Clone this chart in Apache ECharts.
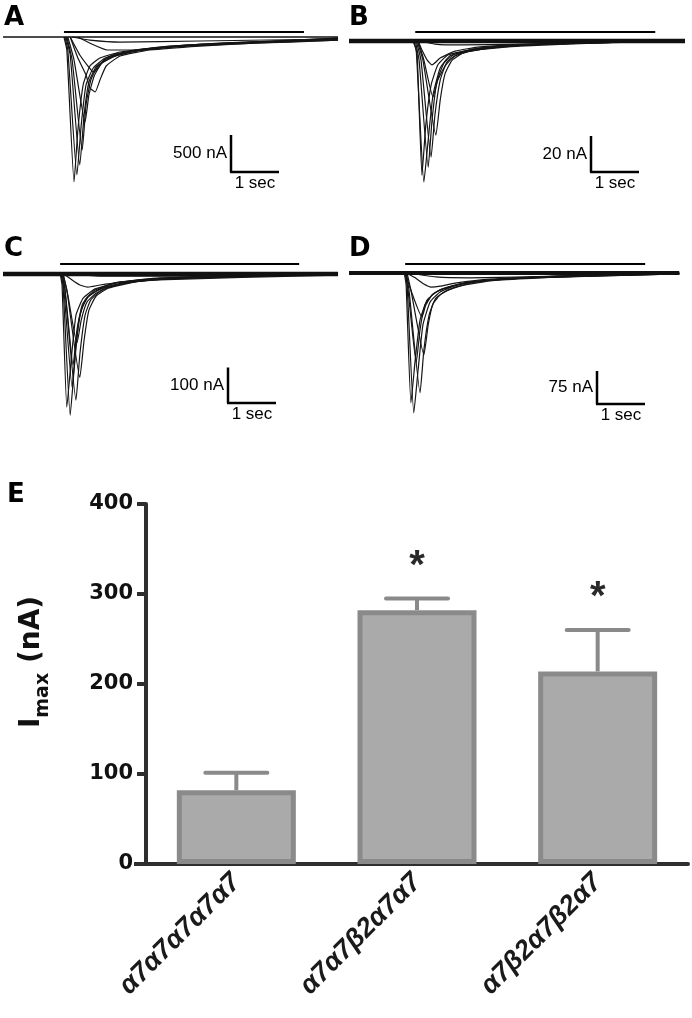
<!DOCTYPE html>
<html><head><meta charset="utf-8">
<script src="https://cdn.jsdelivr.net/npm/echarts@6/dist/echarts.min.js"></script>
<style>html,body{margin:0;padding:0;background:#fff}#c{width:692px;height:1018px}</style>
</head><body><div id="c"></div>
<script>
// ---------- Panel A traces (time s, current nA) ----------
const timesA = [
  [1.27,1.33,1.48,1.56,1.67,1.81,2.02,2.44,3.27,4.52,5.77,6.98],
  [1.29,1.35,1.54,1.63,1.73,1.88,2.13,2.65,3.48,4.73,5.98,6.98],
  [1.31,1.40,1.60,1.69,1.79,1.94,2.19,2.75,3.69,4.94,6.19,6.98],
  [1.33,1.44,1.65,1.73,1.83,1.98,2.27,2.85,3.90,5.15,6.98],
  [1.35,1.48,1.71,1.79,1.90,2.06,2.40,3.06,4.10,5.35,6.98],
  [1.40,1.56,1.73,1.81,1.92,2.02,2.15,2.44,3.06,4.10,5.35,6.98],
  [1.40,1.60,1.77,1.88,1.98,2.10,2.33,2.96,4.10,5.35,6.98],
  [1.56,1.85,2.17,2.65,3.48,4.73,5.98,6.98],
  [1.44,1.81,2.44,4.10,6.98]
];
const currentsA = [
  [0,-176,-1958,-1256,-648,-392,-284,-203,-135,-81,-54,-27],
  [0,-176,-1863,-1188,-648,-419,-284,-189,-122,-81,-54,-27],
  [0,-243,-1728,-1053,-608,-405,-284,-189,-122,-81,-41,-14],
  [0,-311,-1526,-918,-581,-392,-270,-176,-108,-68,-14],
  [0,-311,-1148,-783,-527,-351,-243,-162,-108,-68,-27],
  [0,-284,-513,-689,-743,-581,-392,-257,-176,-122,-81,-41],
  [0,-243,-392,-473,-419,-311,-230,-162,-108,-68,-27],
  [0,-95,-176,-176,-135,-95,-68,-41],
  [0,-41,-68,-54,-27]
];
// ---------- Panel B ----------
const timesB = [
  [1.33,1.40,1.56,1.65,1.75,1.90,2.10,2.52,3.15,4.19,5.65,7.00],
  [1.35,1.42,1.52,1.60,1.71,1.85,2.06,2.63,3.56,5.02,7.00],
  [1.38,1.46,1.65,1.73,1.83,1.98,2.21,2.73,3.77,5.23,7.00],
  [1.40,1.50,1.71,1.79,1.90,2.04,2.27,2.94,3.98,7.00],
  [1.42,1.54,1.81,1.90,2.00,2.15,2.42,3.15,4.40,7.00],
  [1.44,1.56,1.75,1.85,2.00,2.21,2.63,3.56,5.23,7.00],
  [1.44,1.52,1.63,1.73,1.90,2.21,2.73,3.77,5.65,7.00],
  [1.48,1.79,2.31,3.56,7.00]
];
const currentsB = [
  [0,-5.0,-78.4,-55.0,-30.0,-15.0,-8.3,-5.0,-2.8,-1.7,-0.6,0],
  [0,-7.8,-74.5,-46.7,-24.5,-13.3,-7.8,-4.4,-2.2,-1.1,0],
  [0,-10.6,-70.1,-43.9,-22.8,-12.2,-7.2,-3.9,-2.2,-0.6,0],
  [0,-10.6,-64.5,-41.1,-21.7,-11.7,-7.2,-3.9,-1.7,0],
  [0,-10.6,-52.3,-32.8,-18.3,-10.6,-6.1,-3.3,-1.1,0],
  [0,-10.6,-31.1,-21.7,-13.9,-8.3,-5.0,-2.8,-1.1,0],
  [0,-5.0,-10.6,-13.3,-9.5,-5.6,-3.3,-1.7,-0.6,0],
  [0,-1.7,-2.2,-1.7,0]
];
// ---------- Panel C ----------
const timesC = [
  [1.21,1.25,1.40,1.48,1.58,1.71,1.92,2.33,3.06,4.52,6.98],
  [1.19,1.23,1.33,1.42,1.52,1.67,1.92,2.44,3.27,4.73,6.98],
  [1.23,1.29,1.52,1.60,1.71,1.83,2.06,2.54,3.48,6.98],
  [1.21,1.27,1.44,1.52,1.63,1.77,2.02,2.65,3.69,6.98],
  [1.25,1.33,1.60,1.69,1.79,1.94,2.19,2.85,4.10,6.98],
  [1.23,1.29,1.46,1.54,1.65,1.81,2.13,2.85,6.98],
  [1.25,1.35,1.54,1.63,1.75,1.94,2.33,3.06,6.98],
  [1.27,1.44,1.60,1.77,2.02,2.65,4.10,6.98],
  [1.29,2.02,4.10,6.98]
];
const currentsC = [
  [0,-31,-398,-271,-130,-73,-45,-25,-14,-6,0],
  [0,-31,-375,-243,-116,-68,-42,-23,-11,-6,0],
  [0,-45,-355,-228,-116,-73,-45,-25,-14,0],
  [0,-45,-319,-200,-102,-65,-42,-23,-11,0],
  [0,-45,-291,-186,-102,-62,-40,-20,-8,0],
  [0,-40,-257,-158,-87,-59,-37,-17,0],
  [0,-59,-195,-130,-79,-54,-31,-17,-3],
  [0,-17,-31,-37,-31,-20,-8,0],
  [0,-6,-6,0]
];
// ---------- Panel D ----------
const timesD = [
  [1.17,1.21,1.35,1.44,1.54,1.69,1.90,2.31,3.15,4.40,6.88],
  [1.15,1.19,1.29,1.38,1.48,1.63,1.85,2.42,3.56,6.88],
  [1.19,1.25,1.48,1.56,1.67,1.81,2.06,2.63,3.77,6.88],
  [1.17,1.23,1.40,1.48,1.58,1.75,2.00,2.52,3.98,6.88],
  [1.21,1.29,1.56,1.65,1.75,1.92,2.21,2.94,4.40,6.88],
  [1.19,1.25,1.52,1.60,1.73,1.94,2.31,3.15,6.88],
  [1.19,1.38,1.56,1.71,1.90,2.21,2.94,4.40,6.88],
  [1.23,1.81,2.52,4.40,6.88]
];
const currentsD = [
  [0,-27,-318,-220,-118,-66,-43,-25,-14,-7,-2],
  [0,-27,-295,-197,-107,-61,-41,-23,-11,-2],
  [0,-39,-272,-175,-95,-57,-39,-20,-11,-2],
  [0,-39,-204,-129,-73,-48,-34,-20,-9,0],
  [0,-39,-186,-118,-70,-48,-32,-18,-9,-2],
  [0,-27,-100,-73,-50,-36,-25,-14,0],
  [0,-11,-25,-32,-30,-23,-14,-7,0],
  [0,-9,-11,-7,0]
];
// recording span (s), agonist application (start, stop in s), scale bars
const recordEnd = [6.98, 7.00, 6.98, 6.88];
const stimWindows = [[1.27,6.27],[1.38,6.38],[1.19,6.17],[1.17,6.17]];
const scaleTime = [1, 1, 1, 1];
const scaleCurrent = [500, 20, 100, 75];
const scaleUnits = ['nA','nA','nA','nA'];
const panelLetters = ['A','B','C','D'];

// ---------- Panel E ----------
const constructs = ['α7α7α7α7α7','α7α7β2α7α7','α7β2α7β2α7'];
const imaxMean = [82, 282, 214];
const imaxSem = [19.5, 13, 46];
const significance = ['', '*', '*'];
const yTicks = [0, 100, 200, 300, 400];

// ---------- layout ----------
const layout = [
  {left:3,   top:5,   height:200, base:37,  px:37,   corner:[231,172], stim:5,  bw:1.3, letter:[4,5]},
  {left:349, top:5,   height:200, base:41,  px:36,   corner:[591,172], stim:9,  bw:4.5, letter:[349,5]},
  {left:3,   top:238, height:200, base:274, px:35.5, corner:[228,403], stim:10, bw:4.5, letter:[4,236]},
  {left:349, top:238, height:200, base:273, px:33,   corner:[597,404], stim:9,  bw:4,   letter:[349,236]}
];
const allTimes = [timesA, timesB, timesC, timesD];
const allCurrents = [currentsA, currentsB, currentsC, currentsD];
const FONT = 'DejaVu Sans';

const grids = [], xAxes = [], yAxes = [], series = [], graphics = [];
layout.forEach((p, gi) => {
  const k = scaleCurrent[gi] / p.px; // nA per pixel
  grids.push({left:p.left, top:p.top, width:336, height:p.height});
  xAxes.push({type:'value', gridIndex:gi, min:0, max:7, show:false});
  yAxes.push({type:'value', gridIndex:gi, min:-(p.top+p.height-p.base)*k, max:(p.base-p.top)*k, show:false});
  series.push({type:'line', xAxisIndex:gi, yAxisIndex:gi, data:[[0,0],[recordEnd[gi],0]], symbol:'none',
    lineStyle:{width:p.bw, color:'#111'}, silent:true, z:3});
  allTimes[gi].forEach((ts, j) => {
    series.push({type:'line', xAxisIndex:gi, yAxisIndex:gi, symbol:'none', silent:true, smooth:0.15,
      data: ts.map((t, m) => [t, allCurrents[gi][j][m]]),
      lineStyle:{width:1.2, color:'#151515'}, z:2});
  });
  series.push({type:'custom', xAxisIndex:gi, yAxisIndex:gi, silent:true, data:[stimWindows[gi]],
    renderItem:(params, api) => {
      const a = api.coord([api.value(0), 0]), b = api.coord([api.value(1), 0]);
      return {type:'line', shape:{x1:a[0], y1:a[1]-p.stim, x2:b[0], y2:b[1]-p.stim}, style:{stroke:'#000', lineWidth:2.2}};
    }});
  series.push({type:'custom', xAxisIndex:gi, yAxisIndex:gi, silent:true, data:[[scaleTime[gi], scaleCurrent[gi]]],
    renderItem:(params, api) => {
      const s = api.size([api.value(0), api.value(1)]);
      const cx = p.corner[0], cy = p.corner[1];
      return {type:'group', children:[
        {type:'line', shape:{x1:cx, y1:cy-s[1], x2:cx, y2:cy}, style:{stroke:'#000', lineWidth:2.5}},
        {type:'line', shape:{x1:cx-1, y1:cy, x2:cx+s[0], y2:cy}, style:{stroke:'#000', lineWidth:2.5}},
        {type:'text', x:cx-4, y:cy-s[1]/2, style:{text:scaleCurrent[gi]+' '+scaleUnits[gi], align:'right', verticalAlign:'middle',
          fontSize:17, fontFamily:'Liberation Sans', fill:'#000'}},
        {type:'text', x:cx+s[0]/2, y:cy+3, style:{text:scaleTime[gi]+' sec', align:'center', verticalAlign:'top',
          fontSize:17, fontFamily:'Liberation Sans', fill:'#000'}}
      ]};
    }});
  graphics.push({type:'text', left:p.letter[0], top:p.letter[1], style:{text:panelLetters[gi], fontSize:26, fontWeight:'bold',
    fontFamily:FONT, fill:'#000'}});
});

// Panel E
const gE = 4;
grids.push({left:146, right:4, top:504, bottom:154});
xAxes.push({type:'category', gridIndex:gE, data:constructs,
  axisLine:{lineStyle:{color:'#2e2e2e', width:4}},
  axisTick:{alignWithLabel:true, length:11, lineStyle:{color:'#2e2e2e', width:4}},
  axisLabel:{rotate:45, fontStyle:'italic', fontWeight:'bold', fontSize:27, color:'#1a1a1a', margin:14, fontFamily:'Liberation Sans'}});
yAxes.push({type:'value', gridIndex:gE, min:yTicks[0], max:yTicks[yTicks.length-1], interval:100,
  axisLine:{show:true, lineStyle:{color:'#2e2e2e', width:4}},
  axisTick:{show:true, length:9, lineStyle:{color:'#2e2e2e', width:4}},
  axisLabel:{fontSize:21, fontWeight:'bold', color:'#111', margin:13, fontFamily:FONT},
  splitLine:{show:false}});
series.push({type:'bar', xAxisIndex:gE, yAxisIndex:gE, data:imaxMean, barWidth:119, silent:true,
  itemStyle:{color:'#aaaaaa', borderColor:'#8a8a8a', borderWidth:5}, z:2});
series.push({type:'custom', xAxisIndex:gE, yAxisIndex:gE, silent:true, z:3,
  data: imaxMean.map((m, i) => [i, m, imaxSem[i]]),
  renderItem:(params, api) => {
    const i = api.value(0), m = api.value(1), e = api.value(2);
    const b = api.coord([i, m]), t = api.coord([i, m + e]);
    const ch = [
      {type:'line', shape:{x1:b[0], y1:b[1], x2:t[0], y2:t[1]}, style:{stroke:'#8a8a8a', lineWidth:4}},
      {type:'line', shape:{x1:t[0]-31, y1:t[1], x2:t[0]+31, y2:t[1]}, style:{stroke:'#8a8a8a', lineWidth:4, lineCap:'round'}}
    ];
    const sg = significance[params.dataIndex];
    if (sg) ch.push({type:'text', x:t[0], y:t[1]-12, style:{text:sg, align:'center', verticalAlign:'bottom',
      fontSize:40, fontWeight:'bold', fontFamily:'Liberation Sans', fill:'#2a2a2a'}});
    return {type:'group', children:ch};
  }});
graphics.push({type:'line', shape:{x1:134, y1:864, x2:148, y2:864}, style:{stroke:'#2e2e2e', lineWidth:4}});
graphics.push({type:'text', left:7, top:482, style:{text:'E', fontSize:26, fontWeight:'bold', fontFamily:FONT, fill:'#000'}});
graphics.push({type:'text', x:32, y:662, rotation:Math.PI/2, style:{
  text:'{b|I}{s|max}{b| (nA)}', align:'center', verticalAlign:'middle',
  rich:{
    b:{fontSize:28, fontWeight:'bold', fontFamily:FONT, fill:'#111', lineHeight:42, verticalAlign:'middle'},
    s:{fontSize:19, fontWeight:'bold', fontFamily:FONT, fill:'#111', lineHeight:19, verticalAlign:'bottom'}
  }}});

const chart = echarts.init(document.getElementById('c'));
chart.setOption({animation:false, backgroundColor:'#fff', grid:grids, xAxis:xAxes, yAxis:yAxes, series:series, graphic:graphics});
</script></body></html>
